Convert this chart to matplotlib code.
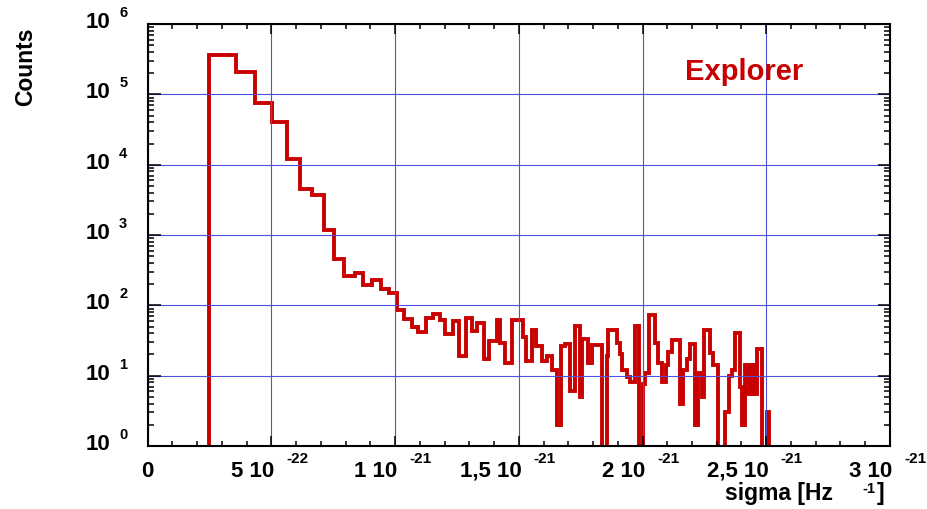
import numpy as np
import matplotlib
matplotlib.use('Agg')
import matplotlib.pyplot as plt
from matplotlib.ticker import MultipleLocator, LogLocator, NullFormatter

# Datos del histograma (bordes en unidades de 1e-22 Hz^-1)
bordes_e22 = [2.49, 3.57, 4.35, 5.02, 5.62, 6.16, 6.64, 7.13, 7.53, 7.93,
              8.39, 8.71, 9.07, 9.42, 9.74, 10.06, 10.36, 10.67, 10.94, 11.25,
              11.52, 11.81, 12.02, 12.35, 12.59, 12.87, 13.10, 13.32, 13.59, 13.81,
              14.11, 14.24, 14.44, 14.71, 15.16, 15.29, 15.52, 15.70, 15.93, 16.13,
              16.33, 16.53, 16.71, 16.87, 17.07, 17.27, 17.47, 17.54, 17.81, 17.95,
              18.35, 18.55, 18.62, 18.96, 19.09, 19.16, 19.36, 19.49, 19.70, 19.87,
              20.01, 20.10, 20.27, 20.51, 20.64, 20.78, 20.95, 21.04, 21.18, 21.52,
              21.65, 21.79, 21.92, 22.12, 22.26, 22.39, 22.49, 22.73, 22.84, 23.06,
              23.33, 23.51, 23.61, 23.74, 23.94, 24.01, 24.14, 24.26, 24.39, 24.51,
              24.62, 24.82, 25.02, 25.13]

cuentas = [360000, 210000, 75000, 41000, 12000, 4500, 3750, 1170, 450, 265,
           290, 192, 230, 172, 152, 85, 63, 50, 42, 66,
           75, 61, 39, 59, 19, 65, 43, 56, 17, 31,
           61, 29, 15, 61, 35, 16, 44, 26, 16, 19,
           12, 2, 26, 28, 6, 51, 5, 33, 15, 27,
           0, 19, 44, 29, 20, 12, 9.5, 8, 51, 0,
           7.6, 11, 74, 29, 15, 8, 14, 22, 32, 4,
           12, 17, 28, 2, 11, 5, 44, 21, 14, 0,
           3, 10, 12, 41, 7, 2, 14, 5.5, 14, 5.5,
           24, 0, 3]

# Etiquetas de los ejes
xticks_val = [0, 5e-22, 1e-21, 1.5e-21, 2e-21, 2.5e-21, 3e-21]
xticks_base = ['0', '5 10', '1 10', '1,5 10', '2 10', '2,5 10', '3 10']
xticks_exp = ['', '-22', '-21', '-21', '-21', '-21', '-21']
yticks_exp = [0, 1, 2, 3, 4, 5, 6]

ROJO = '#c80000'
AZUL = '#5050dc'

plt.rcParams['font.family'] = ['Liberation Sans', 'DejaVu Sans']
plt.rcParams['font.weight'] = 'bold'


def graficar():
    fig = plt.figure(figsize=(9.27, 5.09), dpi=100)
    ax = fig.add_axes([0.1593, 0.1238, 0.8007, 0.829])

    bordes = np.array(bordes_e22) * 1e-22
    valores = np.array(cuentas, dtype=float)
    valores = np.where(valores > 0, valores, 1e-3)  # ceros fuera del eje
    ax.stairs(valores, bordes, baseline=1e-3, color=ROJO, linewidth=2.8)

    ax.set_yscale('log')
    ax.set_xlim(0, 3e-21)
    ax.set_ylim(1, 1e6)

    # Ticks y rejilla
    ax.xaxis.set_major_locator(MultipleLocator(5e-22))
    ax.xaxis.set_minor_locator(MultipleLocator(1e-22))
    ax.yaxis.set_major_locator(LogLocator(base=10, numticks=10))
    ax.yaxis.set_minor_locator(LogLocator(base=10, subs=np.arange(2, 10), numticks=10))
    ax.yaxis.set_minor_formatter(NullFormatter())
    ax.tick_params(which='both', direction='in', top=True, right=True,
                   labelbottom=False, labelleft=False, width=1.1, color='black')
    ax.tick_params(axis='x', which='major', length=7.5)
    ax.tick_params(axis='x', which='minor', length=3.8)
    ax.tick_params(axis='y', which='major', length=9)
    ax.tick_params(axis='y', which='minor', length=4.3)
    ax.grid(True, which='major', color=AZUL, linewidth=0.8)
    ax.set_axisbelow(False)
    for s in ax.spines.values():
        s.set_linewidth(1.5)
        s.set_zorder(5)

    # Etiquetas del eje x
    for v, b, e in zip(xticks_val, xticks_base, xticks_exp):
        if e == '':
            ax.annotate(b, xy=(v, 0), xycoords=('data', 'axes fraction'),
                        xytext=(0, -22), textcoords='offset points',
                        ha='center', va='baseline', fontsize=16)
        else:
            ax.annotate(b, xy=(v, 0), xycoords=('data', 'axes fraction'),
                        xytext=(1.8, -22), textcoords='offset points',
                        ha='right', va='baseline', fontsize=16)
            ax.annotate(e, xy=(v, 0), xycoords=('data', 'axes fraction'),
                        xytext=(10.5, -12.3), textcoords='offset points',
                        ha='left', va='baseline', fontsize=11)

    # Etiquetas del eje y
    for k in yticks_exp:
        ax.annotate('10', xy=(0, 10.0 ** k), xycoords=('axes fraction', 'data'),
                    xytext=(-27, 1), textcoords='offset points',
                    ha='right', va='center', fontsize=16)
        ax.annotate(str(k), xy=(0, 10.0 ** k), xycoords=('axes fraction', 'data'),
                    xytext=(-20.5, 5), textcoords='offset points',
                    ha='left', va='baseline', fontsize=10.5)

    fig.text(0.028, 0.868, 'Counts', rotation=90, ha='center', va='center', fontsize=16.5)
    fig.text(0.782, 0.0185, 'sigma [Hz', ha='left', va='baseline', fontsize=16.5)
    fig.text(0.930, 0.031, '-1', ha='left', va='baseline', fontsize=10.5)
    fig.text(0.946, 0.0185, ']', ha='left', va='baseline', fontsize=16.5)

    ax.text(0.7387, 0.843, 'Explorer', transform=fig.transFigure, ha='left',
            va='baseline', fontsize=21, color=ROJO)

    fig.savefig('out.png', dpi=100)


if __name__ == '__main__':
    graficar()
